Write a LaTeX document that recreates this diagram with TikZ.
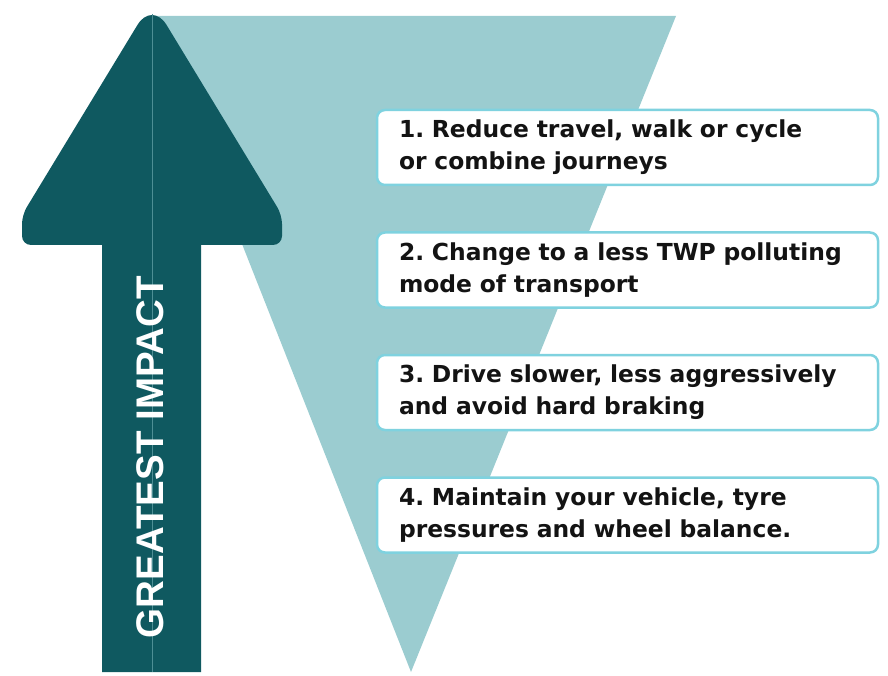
\documentclass[tikz,border=0pt]{standalone}
\usepackage{fontspec}
\newfontfamily\labelfont{Liberation Sans}
\newfontfamily\boxfont{DejaVu Sans}
\definecolor{darkteal}{HTML}{0F5960}
\definecolor{lightteal}{HTML}{9BCCD0}
\definecolor{midline}{HTML}{4E8F95}
\definecolor{boxline}{HTML}{7FD2DF}
\definecolor{inktext}{HTML}{131313}
\tikzset{
  stepbox/.style={draw=boxline, line width=2.5pt, fill=white, rounded corners=8pt,
    minimum width=501pt, minimum height=75pt, text width=457pt, inner xsep=22pt,
    inner ysep=0pt, align=left, text=inktext,
    font=\boxfont\bfseries\fontsize{23.4}{32}\selectfont\frenchspacing},
  bigtext/.style={text=white, rotate=90, inner sep=0pt,
    font=\labelfont\bfseries\fontsize{38.5}{40}\selectfont}
}
\begin{document}
\frenchspacing
\begin{tikzpicture}[x=1pt,y=-1pt]
\useasboundingbox (0,0) rectangle (888,676);
% funnel triangle
\fill[lightteal] (152,16) -- (676,16) -- (411,672) -- cycle;
% arrow
\fill[darkteal] (102,672) -- (102,245) [rounded corners=9pt] -- (22,245) -- (22,215)
  [rounded corners=28pt] -- (152,1) [rounded corners=9pt] -- (282,215) -- (282,245)
  [sharp corners] -- (201,245) -- (201,672) -- cycle;
\draw[midline, line width=1pt] (152,14) -- (152,672);
\node[bigtext] (label) at (150,457) {GREATEST IMPACT};
% boxes
\node[stepbox] (s1) at (627.5,147.5) {1. Reduce travel, walk or cycle\\or combine journeys};
\node[stepbox] (s2) at (627.5,270) {2. Change to a less TWP polluting\\mode of transport};
\node[stepbox] (s3) at (627.5,392.5) {3. Drive slower, less aggressively\\and avoid hard braking};
\node[stepbox] (s4) at (627.5,515) {4. Maintain your vehicle, tyre\\pressures and wheel balance.};
\end{tikzpicture}
\end{document}
